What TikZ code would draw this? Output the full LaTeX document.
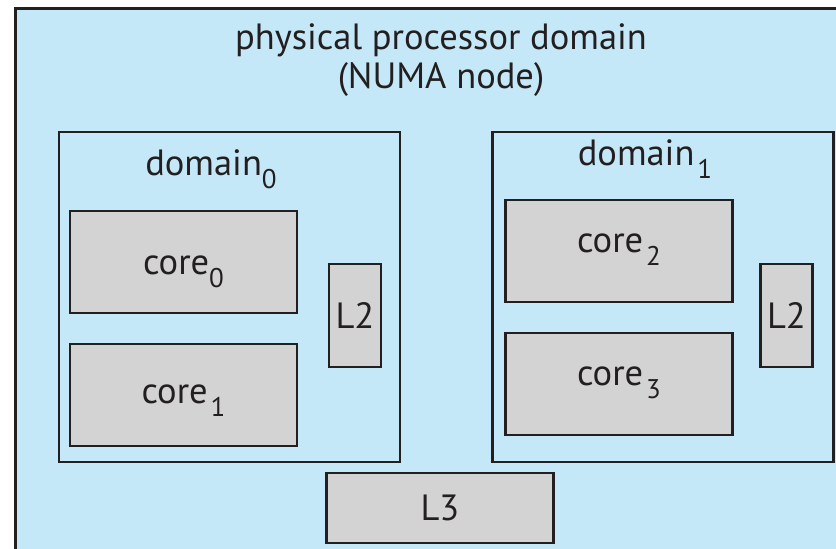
\documentclass[tikz,border=0pt]{standalone}
\usepackage{fontspec}
\setmainfont{PT Sans}
\usetikzlibrary{positioning}

\definecolor{numablue}{RGB}{197,232,248}
\definecolor{coregray}{RGB}{211,211,212}
\definecolor{edgeblack}{RGB}{35,31,32}

% subscript in the labels
\newcommand{\idx}[1]{\raisebox{-0.36em}{\fontsize{27}{27}\selectfont #1}}

\begin{document}
\begin{tikzpicture}[
    x=1pt, y=-1pt,
    font=\fontsize{36.5}{39}\selectfont,
    % box styles
    numabox/.style={rectangle, draw=edgeblack, line width=3pt, fill=numablue, inner sep=0pt, outer sep=0pt},
    domainbox/.style={rectangle, draw=edgeblack, line width=2.4pt, inner sep=0pt, outer sep=0pt, minimum width=341pt, minimum height=330pt},
    corebox/.style={rectangle, draw=edgeblack, line width=2.4pt, fill=coregray, inner sep=0pt, outer sep=0pt, minimum width=227pt, minimum height=102pt, text=edgeblack},
    cachebox/.style={rectangle, draw=edgeblack, line width=2.4pt, fill=coregray, inner sep=0pt, outer sep=0pt, minimum width=52pt, minimum height=103pt, text=edgeblack},
    baseoff/.style={text height=#1, text depth=0pt},   % baseline below centre = #1/2
    textcol/.style={text=edgeblack}
  ]

  \useasboundingbox (0,0) rectangle (836,549);
  \clip (0,0) rectangle (836,549);

  % --- outer NUMA node (cut off at right and bottom) ---
  \node[numabox, minimum width=850pt, minimum height=570pt] (numa) at (440,293) {};
  \node[textcol, align=center] (title) at (441,60) {physical processor domain\\(NUMA node)};

  % --- domain 0 ---
  \node[domainbox] (dom0) at (229.5,297) {};
  \node[textcol, anchor=base] (dom0lbl) at (211,175) {domain\idx{0}};
  \node[corebox, baseoff=24pt] (core0) at (183.5,262) {core\idx{0}};
  \node[corebox, baseoff=16pt] (core1) at (183.5,395) {core\kern3pt\idx{1}};
  \node[cachebox] (l2a) at (355,315.5) {L2};

  % --- domain 1 ---
  \node[domainbox] (dom1) at (663,297) {};
  \node[textcol, anchor=base] (dom1lbl) at (645,165) {domain\kern3pt\idx{1}};
  \node[corebox, baseoff=2pt] (core2) at (619,251) {core\kern3pt\idx{2}};
  \node[corebox, baseoff=2pt] (core3) at (619,384) {core\kern3pt\idx{3}};
  \node[cachebox] (l2b) at (786.5,315.5) {L2};

  % --- shared L3 ---
  \node[corebox, minimum height=70pt] (l3) at (440,508) {L3};

\end{tikzpicture}
\end{document}
